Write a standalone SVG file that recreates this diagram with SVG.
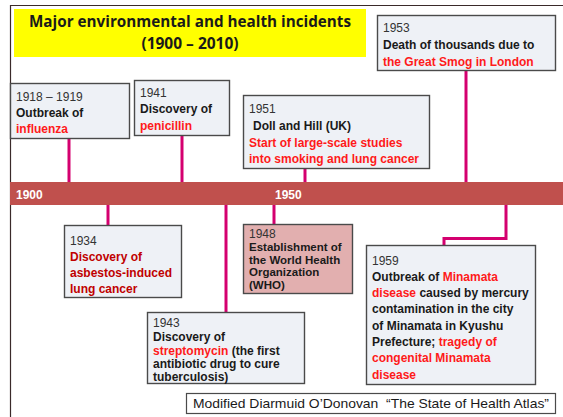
<svg xmlns="http://www.w3.org/2000/svg" width="563" height="417" viewBox="0 0 563 417">
  <style>
    .box { fill: #EEF1F6; stroke: #4A4A4A; stroke-width: 1.4; }
    .who { fill: #E2AFAF; stroke: #4A4A4A; stroke-width: 1.4; }
    .yr { font-family: "Liberation Sans", Arial, sans-serif; font-size: 12px; fill: #333; }
    .t { font-family: "Liberation Sans", Arial, sans-serif; font-size: 12px; font-weight: bold; fill: #1A1A1A; }
    .s { font-size: 11.5px; }
    .r { fill: #FF1A1A; }
    .dr { fill: #C00000; }
    .link { fill: none; stroke: #D4006F; stroke-width: 3; }
  </style>

  <rect width="563" height="417" fill="#FFFFFF"/>
  <!-- frame -->
  <polyline points="10.5,417 10.5,5.5 563,5.5" fill="none" stroke="#3A2A2A" stroke-width="1.2"/>

  <!-- title -->
  <g id="title">
    <rect x="14" y="9" width="352" height="48" fill="#FFFF00"/>
    <text x="190" y="27" text-anchor="middle" font-family="'Open Sans', 'Liberation Sans', sans-serif" font-size="15.5" font-weight="bold" fill="#1A1A1A" textLength="322" lengthAdjust="spacingAndGlyphs">Major environmental and health incidents</text>
    <text x="190" y="49" text-anchor="middle" font-family="'Open Sans', 'Liberation Sans', sans-serif" font-size="15.5" font-weight="bold" fill="#1A1A1A">(1900 – 2010)</text>
  </g>

  <!-- connectors -->
  <g id="connectors">
    <line class="link" x1="69" y1="139" x2="69" y2="183"/>
    <line class="link" x1="182" y1="136" x2="182" y2="183"/>
    <line class="link" x1="305" y1="169" x2="305" y2="183"/>
    <line class="link" x1="466" y1="71" x2="466" y2="183"/>
    <line class="link" x1="108" y1="204" x2="108" y2="225"/>
    <line class="link" x1="274" y1="204" x2="274" y2="224"/>
    <line class="link" x1="226" y1="204" x2="226" y2="312"/>
    <polyline class="link" points="506,204 506,238.5 444,238.5 444,245"/>
  </g>

  <!-- timeline -->
  <g id="timeline">
    <rect x="10" y="182" width="553" height="23" fill="#C0504D"/>
    <text x="16" y="199" font-family="'Liberation Sans', Arial, sans-serif" font-size="12" font-weight="bold" fill="#FFFFFF">1900</text>
    <text x="275" y="199" font-family="'Liberation Sans', Arial, sans-serif" font-size="12" font-weight="bold" fill="#FFFFFF">1950</text>
  </g>

  <g id="e1918">
    <rect class="box" x="10.5" y="83.5" width="119" height="55"/>
    <text class="yr" x="16" y="101">1918 – 1919</text>
    <text class="t" x="16" y="117">Outbreak of</text>
    <text class="t r" x="16" y="133">influenza</text>
  </g>

  <g id="e1941">
    <rect class="box" x="134.5" y="80.5" width="95" height="55"/>
    <text class="yr" x="140" y="97">1941</text>
    <text class="t" x="140" y="113">Discovery of</text>
    <text class="t r" x="140" y="130">penicillin</text>
  </g>

  <g id="e1951">
    <rect class="box" x="243.5" y="95.5" width="186" height="73"/>
    <text class="yr" x="249" y="113">1951</text>
    <text class="t" x="253" y="130">Doll and Hill (UK)</text>
    <text class="t r" x="249" y="147">Start of large-scale studies</text>
    <text class="t r" x="249" y="163">into smoking and lung cancer</text>
  </g>

  <g id="e1953">
    <rect class="box" x="377.5" y="15.5" width="178" height="55"/>
    <text class="yr" x="383" y="32">1953</text>
    <text class="t" x="383" y="49">Death of thousands due to</text>
    <text class="t r" x="383" y="66">the Great Smog in London</text>
  </g>

  <g id="e1934">
    <rect class="box" x="64.5" y="225.5" width="117" height="72"/>
    <text class="yr" x="70" y="245">1934</text>
    <text class="t dr" x="70" y="261">Discovery of</text>
    <text class="t dr" x="70" y="277">asbestos-induced</text>
    <text class="t dr" x="70" y="293">lung cancer</text>
  </g>

  <g id="e1948">
    <rect class="who" x="243.5" y="224.5" width="109" height="69"/>
    <text class="yr" x="249" y="238">1948</text>
    <text class="t s" x="249" y="251">Establishment of</text>
    <text class="t s" x="249" y="264">the World Health</text>
    <text class="t s" x="249" y="276">Organization</text>
    <text class="t s" x="249" y="289">(WHO)</text>
  </g>

  <g id="e1943">
    <rect class="box" x="147.5" y="312.5" width="157" height="71"/>
    <text class="yr" x="153" y="327">1943</text>
    <text class="t" x="153" y="341">Discovery of</text>
    <text class="t" x="153" y="355"><tspan class="r">streptomycin</tspan> (the first</text>
    <text class="t" x="153" y="368">antibiotic drug to cure</text>
    <text class="t" x="153" y="381">tuberculosis)</text>
  </g>

  <g id="e1959">
    <rect class="box" x="366.5" y="245.5" width="169" height="139"/>
    <text class="yr" x="372" y="265">1959</text>
    <text class="t" x="372" y="281">Outbreak of <tspan class="r">Minamata</tspan></text>
    <text class="t" x="372" y="297"><tspan class="r">disease</tspan> caused by mercury</text>
    <text class="t" x="372" y="313">contamination in the city</text>
    <text class="t" x="372" y="330">of Minamata in Kyushu</text>
    <text class="t" x="372" y="346">Prefecture; <tspan class="r">tragedy of</tspan></text>
    <text class="t r" x="372" y="362">congenital Minamata</text>
    <text class="t r" x="372" y="379">disease</text>
  </g>

  <g id="source">
    <rect x="186.5" y="393.5" width="369" height="20" fill="#FFFFFF" stroke="#4A4A4A" stroke-width="1.2"/>
    <text x="193" y="408" font-family="'Liberation Sans', Arial, sans-serif" font-size="13.5" fill="#1A1A1A" textLength="356" lengthAdjust="spacingAndGlyphs">Modified Diarmuid O’Donovan&#160; “The State of Health Atlas”</text>
  </g>
</svg>
